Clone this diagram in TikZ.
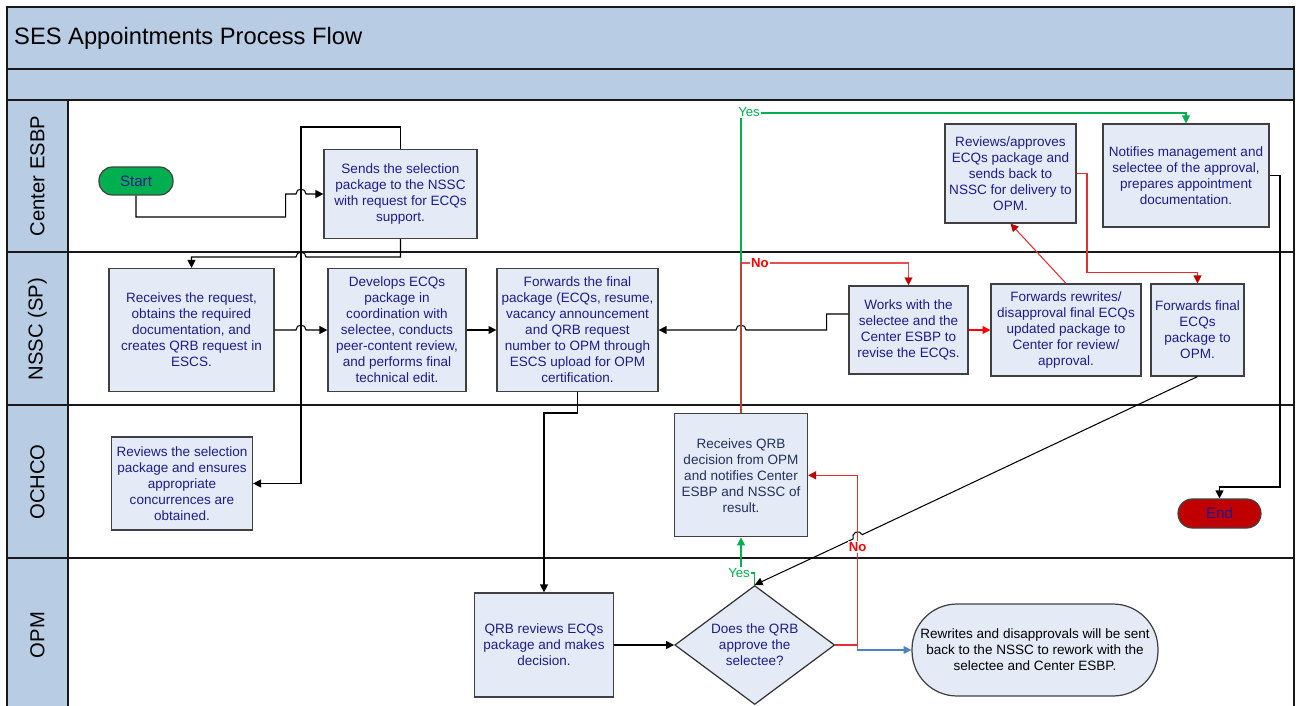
\documentclass[tikz,border=0pt]{standalone}
\usepackage{fontspec}
\setmainfont{Liberation Sans}
\usetikzlibrary{arrows.meta,shapes.geometric,calc}

\definecolor{laneblue}{HTML}{B8CCE4}
\definecolor{boxblue}{HTML}{E4EBF6}
\definecolor{boxline}{HTML}{404040}
\definecolor{navytext}{HTML}{1C1C8C}
\definecolor{slatetext}{HTML}{22305E}
\definecolor{startgreen}{HTML}{00B050}
\definecolor{endred}{HTML}{C00000}
\definecolor{noline}{HTML}{E03030}
\definecolor{nodark}{HTML}{C00000}
\definecolor{flowblue}{HTML}{4F81BD}

\begin{document}
\begin{tikzpicture}[x=0.02cm,y=-0.02cm,
  frame/.style={line width=0.7pt,black!90},
  proc/.style={draw=boxline,line width=0.7pt,fill=boxblue,text=navytext,align=center,inner sep=1pt,
    font=\fontsize{7.7pt}{9.1pt}\selectfont},
  term/.style={proc,rounded corners=0.27cm,minimum width=1.48cm,minimum height=0.56cm,
    font=\fontsize{8.6pt}{10pt}\selectfont},
  lanename/.style={rotate=90,font=\fontsize{11.5pt}{13pt}\selectfont},
  conn/.style={line width=0.6pt,-{Triangle[length=4.5pt,width=4.5pt]}},
  yesconn/.style={conn,draw=startgreen,-{Triangle[length=4.5pt,width=4.5pt,color=startgreen]}},
  noconn/.style={conn,draw=noline,-{Triangle[length=4.5pt,width=4.5pt,color=nodark]}},
  yeslbl/.style={fill=white,inner sep=0.6pt,text=startgreen,font=\fontsize{7.5pt}{9pt}\selectfont},
  nolbl/.style={fill=white,inner sep=0.6pt,text=red,font=\fontsize{7.5pt}{9pt}\selectfont\bfseries}]
\useasboundingbox (0,0) rectangle (1298,706);

% header bands and lanes
\fill[laneblue] (7,7) rectangle (1294,100);
\fill[laneblue] (7,100) rectangle (68,706);
\draw[frame] (7,706) -- (7,7) -- (1294,7) -- (1294,706);
\draw[frame] (7,69) -- (1294,69);
\foreach \y in {100,252,405,558}
  \draw[frame] (7,\y) -- (1294,\y);
\draw[frame] (68,100) -- (68,706);
\node[anchor=west,font=\fontsize{13.5pt}{16pt}\selectfont] (title) at (8,38) {SES Appointments Process Flow};
\node[lanename] (laneesbp) at (37.5,176) {Center ESBP};
\node[lanename] (lanenssc) at (37.5,329) {NSSC (SP)};
\node[lanename] (laneochco) at (37.5,482) {OCHCO};
\node[lanename] (laneopm) at (37.5,635) {OPM};

% steps
\node[term,fill=startgreen] (start) at (136,181) {Start};
\node[proc,minimum width=3.06cm,minimum height=1.78cm] (sends) at (400.5,194) {Sends the selection\\package to the NSSC\\with request for ECQs\\support.};
\node[proc,minimum width=3.3cm,minimum height=2.46cm] (recv) at (191.5,330) {Receives the request,\\obtains the required\\documentation, and\\creates QRB request in\\ESCS.};
\node[proc,minimum width=2.76cm,minimum height=2.46cm] (dev) at (397,330) {Develops ECQs\\package in\\coordination with\\selectee, conducts\\peer-content review,\\and performs final\\technical edit.};
\node[proc,minimum width=3.22cm,minimum height=2.46cm] (fwdpkg) at (577.5,330) {Forwards the final\\package (ECQs, resume,\\vacancy announcement\\and QRB request\\number to OPM through\\ESCS upload for OPM\\certification.};
\node[proc,minimum width=2.38cm,minimum height=1.76cm] (works) at (908.5,330) {Works with the\\selectee and the\\Center ESBP to\\revise the ECQs.};
\node[proc,minimum width=3.0cm,minimum height=1.84cm] (fwdrw) at (1066,330) {Forwards rewrites/\\disapproval final ECQs\\updated package to\\Center for review/\\approval.};
\node[proc,minimum width=1.86cm,minimum height=1.84cm] (fwdecq) at (1197.5,330) {Forwards final\\ECQs\\package to\\OPM.};
\node[proc,minimum width=2.62cm,minimum height=1.98cm] (revapp) at (1010.5,173.5) {Reviews/approves\\ECQs package and\\sends back to\\NSSC for delivery to\\OPM.};
\node[proc,minimum width=3.32cm,minimum height=2.06cm] (notif) at (1186,175.5) {Notifies management and\\selectee of the approval,\\prepares appointment\\documentation.};
\node[proc,minimum width=2.82cm,minimum height=1.86cm] (revsel) at (182,483.5) {Reviews the selection\\package and ensures\\appropriate\\concurrences are\\obtained.};
\node[proc,minimum width=2.78cm,minimum height=2.08cm] (qrbrev) at (544,645) {QRB reviews ECQs\\package and makes\\decision.};
\node[proc,text=slatetext,minimum width=2.66cm,minimum height=2.46cm] (qrbdec) at (741,475.3) {Receives QRB\\decision from OPM\\and notifies Center\\ESBP and NSSC of\\result.};
\node[proc,shape=diamond,inner sep=0pt,aspect=1.34,draw=black!80,minimum width=3.2cm,minimum height=2.38cm] (decide) at (754.7,645) {Does the QRB\\approve the\\selectee?};
\node[term,fill=endred,minimum width=1.66cm,minimum height=0.58cm,rounded corners=0.29cm] (endn) at (1219.5,513.5) {End};
\node[proc,text=black,rounded corners=0.9cm,minimum width=4.92cm,minimum height=1.84cm] (rework) at (1035,650) {Rewrites and disapprovals will be sent\\back to the NSSC to rework with the\\selectee and Center ESBP.};

% connectors
\draw[conn] (start.south) |- (285.7,217) -- (285.7,194) -- (296,194)
  arc[start angle=180,end angle=0,radius=0.1cm] -- (sends.west);
\draw[conn] (sends.south) -- (400.5,257) -- (306,257)
  arc[start angle=0,end angle=180,radius=0.1cm] -| (recv.north);
\draw[conn] (sends.north) |- (301,127) |- (revsel.east);
\draw[conn] (recv.east) -- (296,330) arc[start angle=180,end angle=0,radius=0.1cm] -- (dev.west);
\draw[conn] (dev.east) -- (fwdpkg.west);
\draw[conn] ([yshift=0.32cm]works.west) -| (826.7,330) -- (746,330)
  arc[start angle=0,end angle=180,radius=0.1cm] -- (fwdpkg.east);
\draw[conn] (fwdpkg.south) -- (577.5,413) -| (qrbrev.north);
\draw[conn] (qrbrev.east) -- (decide.west);
\draw[noconn,draw=red,-{Triangle[length=4.5pt,width=4.5pt,color=red]}] (works.east) -- (fwdrw.west);
\draw[noconn] (fwdrw.north) -- (revapp.south);
\draw[noconn] (revapp.east) -| (1087,272.7) -| (fwdecq.north);
\coordinate (jumpd) at (857.7,536.8);
\draw[conn] (fwdecq.south) -- ($(jumpd)+(25.32:0.1cm)$)
  arc[start angle=25.32,end angle=205.32,radius=0.1cm] -- (decide.north);
\draw[conn] (notif.east) -| (1280,487) -| (endn.north);

% decision outcomes
\draw[yesconn] (qrbdec.north) -- (741,113) -| (notif.north);
\node[yeslbl] (yestop) at (749,112) {Yes};
\draw[noconn,draw opacity=0.85] (qrbdec.north) -- (741,263) -| (works.north);
\node[nolbl] (notop) at (760,263) {No};
\draw[yesconn] (decide.north) |- (741,573) -- (qrbdec.south);
\node[yeslbl] (yesdec) at (739,573) {Yes};
\draw[conn,draw=flowblue,-{Triangle[length=4.5pt,width=4.5pt,color=flowblue]}] (decide.east) -- (857.7,645) -- (857.7,650) -- (rework.west);
\draw[noconn] (decide.east) -- (857.7,645) |- (qrbdec.east);
\node[nolbl] (nodec) at (857.7,547) {No};
\end{tikzpicture}
\end{document}
